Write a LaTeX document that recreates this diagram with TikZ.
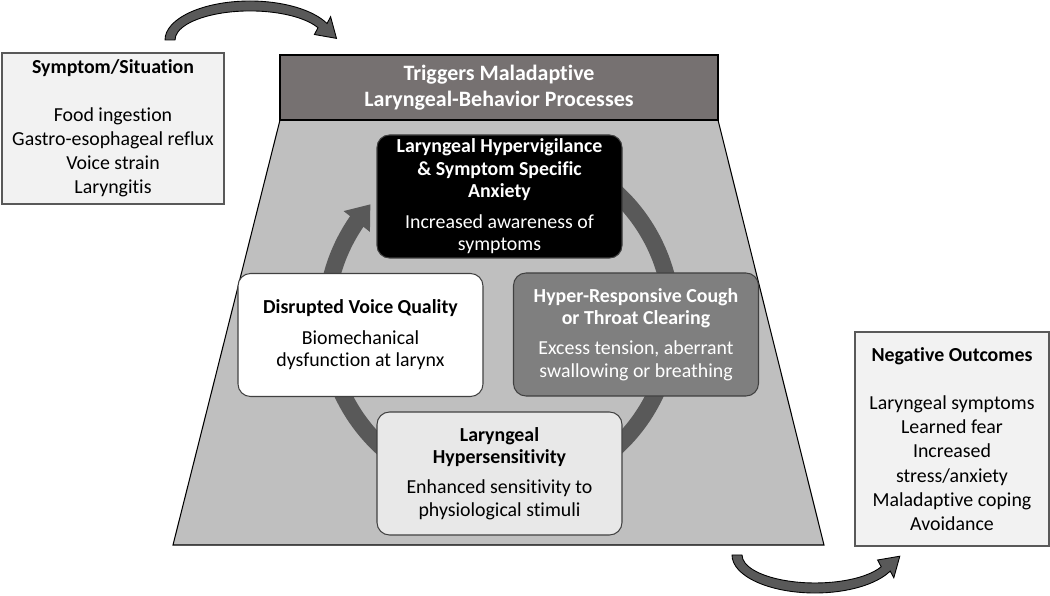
\documentclass[tikz,border=0pt]{standalone}
\usepackage{fontspec}
\setmainfont{Carlito}[Ligatures=NoCommon]
\usetikzlibrary{arrows.meta,bending}
\definecolor{ringgray}{HTML}{595959}
\definecolor{headgray}{HTML}{767171}
\definecolor{trapgray}{HTML}{BFBFBF}
\definecolor{panelgray}{HTML}{F2F2F2}
\definecolor{coughgray}{HTML}{7F7F7F}
\definecolor{sensegray}{HTML}{E8E8E8}

\begin{document}
\begin{tikzpicture}[x=0.2cm,y=0.2cm,
	panel/.style={draw=ringgray, fill=panelgray, line width=0.6pt, inner sep=0pt, align=center, font=\fontsize{11.3}{13.7}\selectfont},
	cyclebox/.style={draw=black!75, line width=0.6pt, rounded corners=0.25cm, minimum width=4.9cm, minimum height=2.46cm, inner sep=0pt, align=center, font=\fontsize{11.3}{12.8}\selectfont},
	bendarrow/.style={fill=ringgray, draw=black, line width=0.5pt}]
		\useasboundingbox (0,0) rectangle (105,59.5);
		% trapezoid and its header
		\filldraw [fill=trapgray, draw=black, line width=0.6pt] (28,47.5) -- (71.8,47.5) -- (82.4,5) -- (17.3,5) -- cycle;
		\node [draw=black, line width=0.6pt, fill=headgray, text=white, minimum width=8.76cm, minimum height=1.3cm, inner sep=0pt, align=center, font=\bfseries\fontsize{12.5}{14.8}\selectfont] (trig) at (49.9,50.75) {Triggers Maladaptive\\Laryngeal-Behavior Processes};
		% the cycle
		\draw [ringgray, line width=0.34cm, -{Triangle[width=0.64cm,length=0.44cm]}] (49.9,27.5) ++(70:17.3) arc [start angle=70, end angle=-222, radius=17.3];
		\node [cyclebox, fill=black, text=white] (vigil) at (49.95,39.85) {\textbf{Laryngeal Hypervigilance}\\\textbf{\& Symptom Specific}\\\textbf{Anxiety}\\[4.5pt]Increased awareness of\\symptoms};
		\node [cyclebox, fill=coughgray, text=white] (cough) at (63.6,26.05) {\textbf{Hyper-Responsive Cough}\\\textbf{or Throat Clearing}\\[4.5pt]Excess tension, aberrant\\swallowing or breathing};
		\node [cyclebox, fill=white] (voice) at (36.05,26.0) {\textbf{Disrupted Voice Quality}\\[4.5pt]Biomechanical\\dysfunction at larynx};
		\node [cyclebox, fill=sensegray] (sens) at (49.95,12.15) {\textbf{Laryngeal}\\\textbf{Hypersensitivity}\\[4.5pt]Enhanced sensitivity to\\physiological stimuli};
		% side panels
		\node [panel, minimum width=4.44cm, minimum height=3.02cm] (sit) at (11.3,46.65) {\textbf{Symptom/Situation}\\[13.7pt]Food ingestion\\Gastro-esophageal reflux\\Voice strain\\Laryngitis};
		\node [panel, minimum width=3.88cm, minimum height=4.28cm] (out) at (95.2,15.6) {\textbf{Negative Outcomes}\\[13.7pt]Laryngeal symptoms\\Learned fear\\Increased\\stress/anxiety\\Maladaptive coping\\Avoidance};
		% curved arrows
		\filldraw [bendarrow] (16.5,55.5) arc [start angle=180, end angle=25, x radius=8.5, y radius=3.9] -- (33.06,57.83) -- (33.65,55.66) -- (31.44,56.05) -- (31.80,56.73) arc [start angle=25, end angle=180, x radius=7.5, y radius=2.9] -- cycle;
		\filldraw [bendarrow] (73.2,4.0) arc [start angle=180, end angle=335, x radius=8.3, y radius=3.8] -- (89.38,1.72) -- (89.98,3.88) -- (87.76,3.50) -- (88.12,2.82) arc [start angle=335, end angle=180, x radius=7.3, y radius=2.8] -- cycle;
\end{tikzpicture}
\end{document}
